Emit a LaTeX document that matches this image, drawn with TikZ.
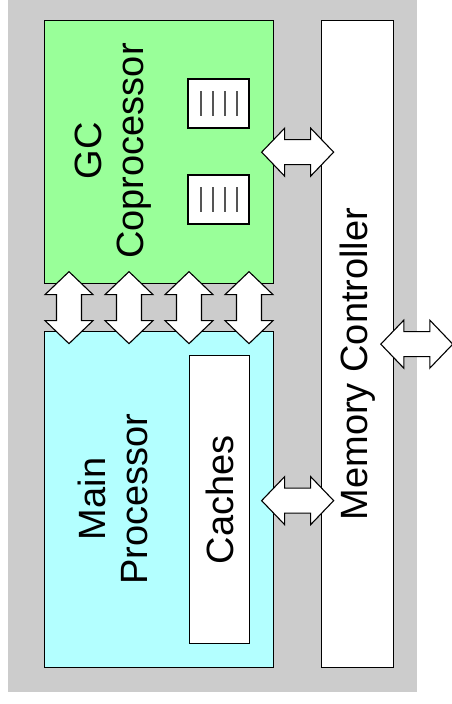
\documentclass[tikz,border=0pt]{standalone}
\usepackage{fontspec}
\setmainfont{Liberation Sans}
\usetikzlibrary{calc}
\definecolor{bggrey}{HTML}{CCCCCC}
\definecolor{gcgreen}{HTML}{99FF99}
\definecolor{cpucyan}{HTML}{B3FFFF}
\definecolor{regline}{HTML}{555555}
\tikzset{
  box/.style={draw=black, line width=1.3pt, inner sep=0pt, anchor=north west},
  boxtext/.style={font=\fontsize{38}{42}\selectfont, rotate=90, align=center, inner sep=0pt},
  arrowbox/.style={draw=black, fill=white, line width=1.1pt, line join=miter},
  dblarrow/.pic={
    \path[arrowbox] (-36,0) -- (-13,24) -- (-13,12.5) -- (13,12.5) -- (13,24)
      -- (36,0) -- (13,-24) -- (13,-12.5) -- (-13,-12.5) -- (-13,-24) -- cycle;
  },
  regfile/.pic={
    \draw[black, line width=1.6pt, fill=white] (-30.5,-24.5) rectangle (30.5,24.5);
    \foreach \lx in {-18,-6,6,18}
      \draw[regline, line width=2pt] (\lx,-12.5) -- (\lx,12.5);
  }
}
\begin{document}
\begin{tikzpicture}[x=1pt, y=-1pt]
  \useasboundingbox (0,0) rectangle (451,704);
  % system background
  \fill[bggrey] (8,0) rectangle (417,692);

  % main blocks
  \node[box, fill=gcgreen, minimum width=229pt, minimum height=263pt] (gc) at (44,20) {};
  \node[box, fill=cpucyan, minimum width=229pt, minimum height=336pt] (cpu) at (44,331) {};
  \node[box, fill=white, minimum width=72pt, minimum height=647pt] (memctl) at (321,20) {};
  \node[box, fill=white, line width=1.1pt, minimum width=60pt, minimum height=288pt] (caches) at (189,355) {};

  % register files inside the GC coprocessor
  \pic at (218.5,103.5) {regfile};
  \pic at (218.5,199.5) {regfile};

  % labels
  \node[boxtext] (gctext) at (113,151) {GC\\Coprocessor};
  \node[boxtext] (cputext) at (113,499) {Main\\Processor};
  \node[boxtext] (cachetext) at (220,500) {Caches};
  \node[boxtext] (memtext) at (358,364) {Memory Controller};

  % links between coprocessor and main processor
  \coordinate (gap) at ($(gc.south)!0.5!(cpu.north)$);
  \foreach \ax in {69,129,189,249}
    \pic[rotate=90] at (\ax,0 |- gap) {dblarrow};

  % links to the memory controller
  \pic at ($(gc.east)!0.5!(memctl.west |- gc.east)$) {dblarrow};
  \pic at ($(cpu.east)!0.5!(memctl.west |- cpu.east) + (0,1)$) {dblarrow};
  \pic at ($(memctl.east) + (22.5,0)$) {dblarrow};
\end{tikzpicture}
\end{document}
